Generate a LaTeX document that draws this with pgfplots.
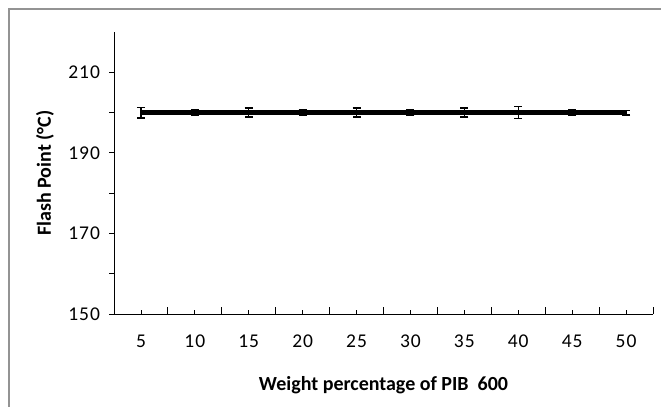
\documentclass[border=0pt]{standalone}
\usepackage{fontspec}
\setmainfont{Carlito}
\newfontfamily\tickfont[LetterSpace=5]{Carlito}
\usepackage{pgfplots}
\pgfplotsset{compat=1.18}

\begin{document}
\begin{tikzpicture}
\useasboundingbox (-114bp,-93bp) rectangle (547bp,314bp);
% grey outer frame (only top and left edges show in the reference)
\draw[gray!85, line width=1.5bp] (-105bp,-93bp) -- (-105bp,305bp) -- (547bp,305bp);
\begin{axis}[
    at={(0,0)}, anchor=south west,
    scale only axis,
    width=539bp, height=282bp,
    xmin=2.5, xmax=52.5,
    ymin=150, ymax=220,
    axis x line*=bottom,
    axis y line*=left,
    axis line style={line width=0.8bp, -},
    xtick={5,10,...,50},
    minor xtick={2.5,7.5,...,52.5},
    xtick align=inside,
    ytick={150,160,...,210},
    yticklabels={150,,170,,190,,210},
    ytick align=outside,
    major tick length=4.5bp,
    minor tick length=7bp,
    every tick/.style={black, line width=0.8bp},
    tick label style={font=\tickfont\fontsize{19.5bp}{21bp}\selectfont},
    /pgf/number format/assume math mode=true,
    xticklabel style={yshift=-17bp},
    yticklabel style={xshift=-6bp},
    xlabel={\textbf{Weight percentage of PIB\ \ 600}},
    ylabel={\textbf{Flash Point (°C)}},
    label style={font=\fontsize{20bp}{22bp}\selectfont},
    xlabel style={at={(axis description cs:0.5,-0.252)}, anchor=center},
    ylabel style={at={(axis description cs:-0.128,0.5)}, anchor=center},
    clip=false,
]
\addplot[black, line width=4.5bp, mark=none,
    error bars/.cd, y dir=both, y explicit,
    error bar style={line width=1.5bp},
    error mark options={rotate=90, mark size=4bp, line width=1.6bp}]
coordinates {
    (5,200)  +- (0,1.3)
    (10,200) +- (0,0.75)
    (15,200) +- (0,1.15)
    (20,200) +- (0,0.75)
    (25,200) +- (0,1.1)
    (30,200) +- (0,0.75)
    (35,200) +- (0,1.1)
    (40,200) +- (0,1.5)
    (45,200) +- (0,0.75)
    (50,200) +- (0,0.55)
};
\end{axis}
\end{tikzpicture}
\end{document}
